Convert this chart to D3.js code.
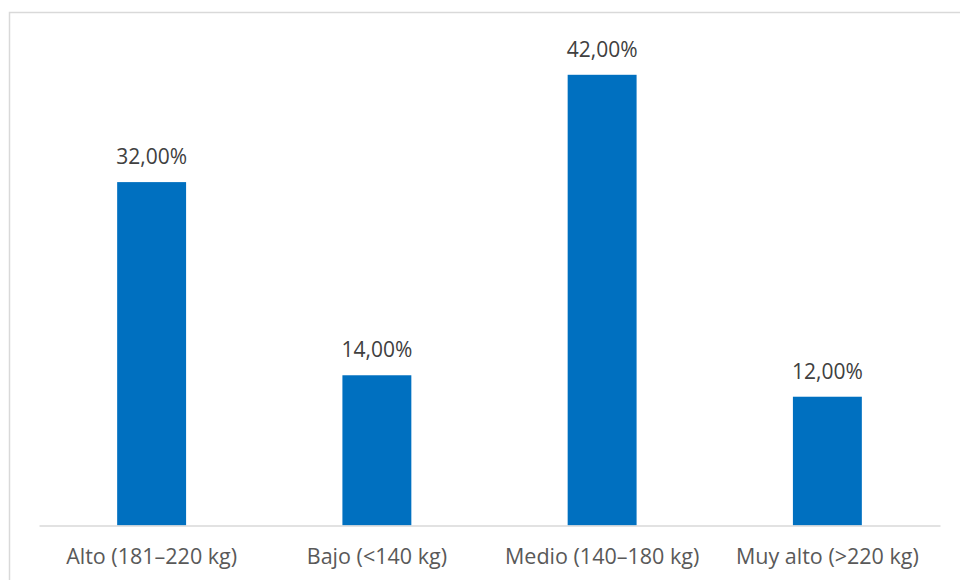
<!DOCTYPE html>
<html>
<head>
<meta charset="utf-8">
<script src="https://cdn.jsdelivr.net/npm/d3@7"></script>
<style>
  html, body { margin: 0; padding: 0; background: #ffffff; }
  svg { display: block; }
</style>
</head>
<body>
<svg id="chart" width="960" height="580"></svg>
<script>
// Distribution of weight classes (share of total)
const categories = ["Alto (181–220 kg)", "Bajo (<140 kg)", "Medio (140–180 kg)", "Muy alto (>220 kg)"];
const values = [0.32, 0.14, 0.42, 0.12];
const valueLabels = ["32,00%", "14,00%", "42,00%", "12,00%"];

const W = 960, H = 580;
const plot = { left: 39, right: 940, top: 42.6, bottom: 525.5 };
const svg = d3.select("#chart");

// outer chart frame
svg.append("rect")
  .attr("x", 9.5).attr("y", 12.5)
  .attr("width", 960).attr("height", 580)
  .attr("fill", "#ffffff")
  .attr("stroke", "#d9d9d9").attr("stroke-width", 1.5);

const x = d3.scaleBand().domain(categories).range([plot.left, plot.right]).padding(0);
const y = d3.scaleLinear().domain([0, 0.45]).range([plot.bottom, plot.top]);
const barW = x.bandwidth() * 0.306;

const data = categories.map((c, i) => ({ c, v: values[i], label: valueLabels[i] }));

svg.append("g").selectAll("rect")
  .data(data).enter().append("rect")
  .attr("x", d => x(d.c) + x.bandwidth() / 2 - barW / 2)
  .attr("y", d => y(d.v))
  .attr("width", barW)
  .attr("height", d => y(0) - y(d.v))
  .attr("fill", "#0070c0");

// category axis
const axis = svg.append("g")
  .attr("transform", `translate(0,${plot.bottom})`)
  .call(d3.axisBottom(x).tickSize(0).tickPadding(23));
axis.select(".domain").attr("stroke", "#d9d9d9").attr("stroke-width", 1.5);
axis.selectAll("text")
  .attr("fill", "#595959")
  .attr("font-family", "'Open Sans', sans-serif")
  .attr("font-size", "21.5px")
  .attr("dy", "0.71em");

// value labels
svg.append("g").selectAll("text")
  .data(data).enter().append("text")
  .attr("x", d => x(d.c) + x.bandwidth() / 2)
  .attr("y", d => y(d.v) - 18)
  .attr("text-anchor", "middle")
  .attr("fill", "#404040")
  .attr("font-family", "'Open Sans', sans-serif")
  .attr("font-size", "21px")
  .text(d => d.label);
</script>
</body>
</html>
